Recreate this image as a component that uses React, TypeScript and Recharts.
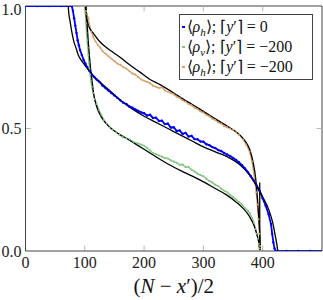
import React from "react";
import {
  ComposedChart,
  Line,
  XAxis,
  YAxis,
  ReferenceLine,
  Legend,
  Label,
} from "recharts";

const FONT = "'Liberation Serif', 'Times New Roman', serif";

const xTicks = [0, 100, 200, 300, 400];
const yTicks = [0, 0.5, 1];

// measured densities (x, density)
const blueDots: [number, number][] = [
  [0, 1], [20, 1], [40, 1], [60, 1], [78, 1], [80, 0.98], [82, 0.95], [84, 0.92],
  [86, 0.89], [88, 0.86], [90, 0.84], [92, 0.82], [95, 0.8], [98, 0.78], [101, 0.765],
  [104, 0.75], [108, 0.735], [112, 0.72], [116, 0.71], [120, 0.7], [125, 0.69],
  [130, 0.675], [135, 0.665], [140, 0.655], [145, 0.645], [150, 0.635], [155, 0.625],
  [160, 0.615], [165, 0.605], [170, 0.6], [175, 0.59], [180, 0.585], [185, 0.578],
  [190, 0.572], [195, 0.566], [200, 0.562], [205, 0.553], [210, 0.556], [215, 0.543],
  [220, 0.544], [225, 0.531], [230, 0.532], [235, 0.518], [240, 0.52], [245, 0.504],
  [250, 0.505], [255, 0.49], [260, 0.492], [265, 0.478], [270, 0.482], [275, 0.467],
  [280, 0.47], [285, 0.457], [290, 0.456], [295, 0.447], [300, 0.446], [305, 0.436],
  [310, 0.432], [315, 0.424], [320, 0.42], [325, 0.412], [330, 0.408], [335, 0.4],
  [340, 0.394], [345, 0.388], [350, 0.38], [355, 0.372], [360, 0.362], [365, 0.35],
  [370, 0.337], [375, 0.322], [380, 0.305], [385, 0.287], [390, 0.267], [395, 0.245],
  [400, 0.215], [405, 0.185], [410, 0.15], [414, 0.11], [416, 0.07], [418, 0.035],
  [420, 0.01], [422, 0], [440, 0], [460, 0], [480, 0], [500, 0],
];

const greenDots: [number, number][] = [
  [100, 1], [101, 0.97], [102, 0.93], [103, 0.89], [104, 0.86], [105, 0.83],
  [106, 0.8], [107, 0.77], [108, 0.745], [109, 0.72], [110, 0.695], [112, 0.67],
  [114, 0.645], [117, 0.62], [120, 0.6], [124, 0.575], [128, 0.555], [132, 0.535],
  [137, 0.52], [142, 0.505], [147, 0.495], [153, 0.485], [158, 0.475], [164, 0.465],
  [170, 0.46], [176, 0.455], [182, 0.445], [188, 0.44], [194, 0.435], [200, 0.43],
  [205, 0.42], [210, 0.41], [215, 0.4], [220, 0.395], [225, 0.39], [230, 0.385],
  [235, 0.38], [240, 0.378], [245, 0.37], [250, 0.365], [255, 0.36], [260, 0.352],
  [265, 0.353], [270, 0.342], [275, 0.343], [280, 0.332], [285, 0.325], [290, 0.316],
  [295, 0.31], [300, 0.305], [305, 0.295], [310, 0.286], [315, 0.28], [320, 0.27],
  [325, 0.265], [330, 0.255], [335, 0.246], [340, 0.24], [345, 0.23], [350, 0.22],
  [355, 0.21], [360, 0.2], [365, 0.19], [370, 0.175], [375, 0.165], [378, 0.155],
  [382, 0.135], [385, 0.115], [388, 0.09], [390, 0.07], [392, 0.05], [393.5, 0.03],
  [395, 0.01], [396, 0],
];

const orangeDots: [number, number][] = [
  [100, 1], [102, 0.98], [104, 0.965], [106, 0.95], [108, 0.92], [111, 0.895],
  [114, 0.875], [118, 0.855], [122, 0.84], [126, 0.83], [130, 0.815], [135, 0.805],
  [140, 0.795], [145, 0.785], [150, 0.775], [155, 0.765], [160, 0.76], [165, 0.75],
  [170, 0.745], [175, 0.735], [180, 0.725], [185, 0.72], [190, 0.71], [195, 0.7],
  [200, 0.695], [205, 0.69], [210, 0.685], [215, 0.675], [220, 0.67], [225, 0.665],
  [230, 0.668], [235, 0.655], [240, 0.65], [245, 0.645], [250, 0.64], [255, 0.63],
  [260, 0.625], [265, 0.615], [270, 0.61], [275, 0.6], [280, 0.595], [285, 0.585],
  [290, 0.58], [295, 0.57], [300, 0.565], [305, 0.555], [310, 0.55], [315, 0.54],
  [320, 0.535], [325, 0.525], [330, 0.52], [335, 0.51], [340, 0.505], [345, 0.5],
  [350, 0.495], [355, 0.485], [360, 0.475], [367, 0.455], [372, 0.435], [378, 0.405],
  [382, 0.365], [386, 0.3], [389, 0.24], [391, 0.19], [393, 0.13], [394.5, 0.07],
  [395.5, 0.02], [396, 0],
];

// theory curves (black)
const blueTheory: [number, number][] = [
  [72, 1], [73, 0.97], [75, 0.94], [78, 0.895], [81, 0.86], [85, 0.83], [89, 0.8],
  [95, 0.775], [103, 0.75], [114, 0.715], [125, 0.69], [137, 0.665], [160, 0.615],
  [180, 0.58], [200, 0.55], [220, 0.525], [240, 0.5], [260, 0.475], [280, 0.45],
  [300, 0.425], [320, 0.405], [340, 0.385], [360, 0.355], [378, 0.31], [390, 0.265],
  [400, 0.22], [410, 0.17], [417, 0.115], [421, 0.065], [424, 0.025], [425.5, 0],
];

const greenTheory: [number, number][] = [
  [102, 1], [104, 0.92], [106, 0.85], [108, 0.79], [110, 0.74], [112, 0.7],
  [115, 0.64], [120, 0.59], [126, 0.555], [131, 0.535], [140, 0.51], [150, 0.49],
  [170, 0.46], [190, 0.43], [210, 0.4], [238, 0.358], [260, 0.33], [294, 0.29],
  [320, 0.255], [339, 0.229], [355, 0.2], [367, 0.174], [378, 0.14], [386, 0.1],
  [391, 0.06], [394, 0.025], [395, 0],
];

const orangeTheory: [number, number][] = [
  [101, 1], [102, 0.97], [104, 0.94], [108, 0.91], [114, 0.89], [125, 0.855],
  [142, 0.82], [160, 0.79], [170, 0.77], [193, 0.73], [210, 0.7], [226, 0.68],
  [250, 0.645], [266, 0.62], [280, 0.6], [300, 0.57], [320, 0.54], [340, 0.51],
  [350, 0.495], [361, 0.475], [370, 0.45], [378, 0.415], [384, 0.36], [388, 0.3],
  [391, 0.22], [393, 0.15], [395, 0.07], [396, 0],
];

const orangeTheoryDrop: [number, number][] = [
  [395, 0.28], [395, 0],
];

const legendColors = ["#0000ff", "#7fc47f", "#d8a067"];
const legendSubs = ["h", "v", "h"];
const legendValues = ["0", "\u2212200", "\u2212200"];

const toPoints = (pairs: [number, number][]) => pairs.map(([x, y]) => ({ x, y }));

function LegendBox() {
  return (
    <div
      style={{
        border: "1px solid #444",
        background: "#fff",
        padding: "2px 4px 2px 2px",
        fontFamily: FONT,
        fontSize: 16,
        lineHeight: "20px",
        color: "#111",
        boxSizing: "border-box",
      }}
    >
      {legendSubs.map((sub, i) => (
        <div key={i} style={{ display: "flex", alignItems: "center", whiteSpace: "nowrap" }}>
          <span
            style={{
              display: "inline-block",
              width: 2.5,
              height: 2.5,
              background: legendColors[i],
              marginRight: 2,
            }}
          />
          <span>
            {"\u27e8"}
            <i>ρ</i>
            <sub style={{ fontSize: 11, fontStyle: "italic", lineHeight: 0 }}>{sub}</sub>
            {"\u27e9; \u2308"}
            <i>y</i>
            {"\u2032\u2309 = "}
            {legendValues[i]}
          </span>
        </div>
      ))}
    </div>
  );
}

function XTitle(props: any) {
  const vb = props.viewBox || { x: 0, y: 0, width: 0 };
  const cx = vb.x + vb.width / 2;
  return (
    <text x={cx} y={vb.y + 42} textAnchor="middle" fontFamily={FONT} fontSize={21} fill="#111">
      <tspan>(</tspan>
      <tspan fontStyle="italic">N</tspan>
      <tspan> − </tspan>
      <tspan fontStyle="italic">x</tspan>
      <tspan>′)/2</tspan>
    </text>
  );
}

function XTick(props: any) {
  const { x, y, payload } = props;
  return (
    <text x={x} y={y + 12} textAnchor="middle" fontFamily={FONT} fontSize={16} fill="#222">
      {payload.value}
    </text>
  );
}

function YTick(props: any) {
  const { x, y, payload } = props;
  return (
    <text x={x} y={y + 5.5} textAnchor="end" fontFamily={FONT} fontSize={16} fill="#222">
      {Number(payload.value).toFixed(1)}
    </text>
  );
}

const innerTick = { stroke: "#b5b5b5", strokeWidth: 1 };

export default function App() {
  return (
    <>
      <style>{"body{margin:0}"}</style>
      <ComposedChart width={323} height={300} margin={{ top: 6, right: 1, left: 0, bottom: 0 }}>
        <XAxis
          dataKey="x"
          type="number"
          domain={[0, 500]}
          ticks={xTicks}
          allowDataOverflow
          tickLine={false}
          tickSize={0}
          tickMargin={5}
          axisLine={{ stroke: "#444" }}
          tick={<XTick />}
          height={49}
        >
          <Label content={XTitle} />
        </XAxis>
        <YAxis
          type="number"
          domain={[0, 1]}
          ticks={yTicks}
          allowDataOverflow
          tickLine={false}
          tickSize={0}
          tickMargin={4}
          axisLine={{ stroke: "#444" }}
          tick={<YTick />}
          width={25.5}
        />
        <ReferenceLine y={1} stroke="#444" />
        <ReferenceLine x={500} stroke="#444" />
        {xTicks.slice(1).map((t) => (
          <ReferenceLine key={"b" + t} segment={[{ x: t, y: 0 }, { x: t, y: 0.022 }]} {...innerTick} />
        ))}
        {xTicks.slice(1).map((t) => (
          <ReferenceLine key={"t" + t} segment={[{ x: t, y: 1 }, { x: t, y: 0.978 }]} {...innerTick} />
        ))}
        <ReferenceLine segment={[{ x: 0, y: 0.5 }, { x: 9, y: 0.5 }]} {...innerTick} />
        <ReferenceLine segment={[{ x: 500, y: 0.5 }, { x: 491, y: 0.5 }]} {...innerTick} />

        <Line
          name="blue"
          data={toPoints(blueDots)}
          dataKey="y"
          type="linear"
          stroke="#0000ff"
          strokeWidth={1.8}
          dot={{ r: 1.2, fill: "#0000ff", strokeWidth: 0 }}
          isAnimationActive={false}
        />
        <Line
          name="green"
          data={toPoints(greenDots)}
          dataKey="y"
          type="linear"
          stroke="#7fc47f"
          strokeWidth={1.3}
          dot={{ r: 1, fill: "#7fc47f", strokeWidth: 0 }}
          isAnimationActive={false}
        />
        <Line
          name="orange"
          data={toPoints(orangeDots)}
          dataKey="y"
          type="linear"
          stroke="#d8a067"
          strokeWidth={1.3}
          dot={{ r: 1, fill: "#d8a067", strokeWidth: 0 }}
          isAnimationActive={false}
        />
        <Line
          data={toPoints(blueTheory)}
          dataKey="y"
          type="monotone"
          stroke="#000"
          strokeWidth={1.3}
          dot={false}
          legendType="none"
          isAnimationActive={false}
        />
        <Line
          data={toPoints(greenTheory)}
          dataKey="y"
          type="monotone"
          stroke="#000"
          strokeWidth={1.3}
          dot={false}
          legendType="none"
          isAnimationActive={false}
        />
        <Line
          data={toPoints(orangeTheory)}
          dataKey="y"
          type="monotone"
          stroke="#000"
          strokeWidth={1.3}
          dot={false}
          legendType="none"
          isAnimationActive={false}
        />
        <Line
          data={toPoints(orangeTheoryDrop)}
          dataKey="y"
          type="linear"
          stroke="#000"
          strokeWidth={1.3}
          dot={false}
          legendType="none"
          isAnimationActive={false}
        />
        <Legend
          layout="vertical"
          align="center"
          verticalAlign="middle"
          content={<LegendBox />}
          wrapperStyle={{ left: 179, top: 14, width: 134 }}
        />
      </ComposedChart>
    </>
  );
}
